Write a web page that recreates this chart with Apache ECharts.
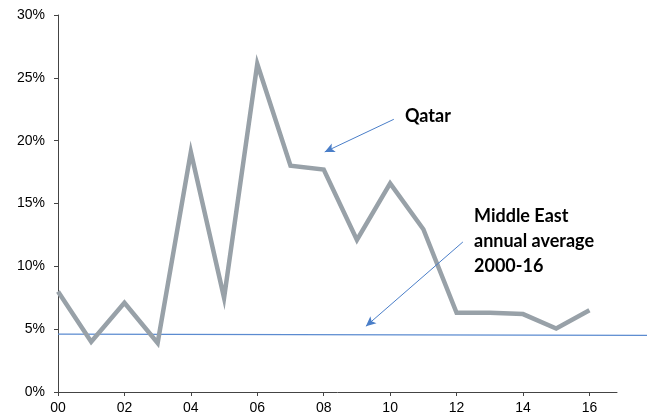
<!DOCTYPE html>
<html>
<head>
<meta charset="utf-8">
<script src="https://cdn.jsdelivr.net/npm/echarts@6/dist/echarts.min.js"></script>
<style>
  html, body { margin: 0; padding: 0; background: #fff; }
  #chart { width: 650px; height: 416px; }
</style>
</head>
<body>
<div id="chart"></div>
<script>
// Qatar annual growth, %, years 2000-16
var years = [0, 1, 2, 3, 4, 5, 6, 7, 8, 9, 10, 11, 12, 13, 14, 15, 16];
var qatar = [8.0, 4.0, 7.1, 3.9, 19.1, 7.5, 26.1, 18.0, 17.7, 12.1, 16.6, 12.95, 6.3, 6.3, 6.2, 5.05, 6.5];
// Middle East annual average 2000-16 (drawn as a near-flat line past the axis end)
var avgYears = [0, 17.73];
var avgValues = [4.6, 4.5];
var xTicks = [0, 2, 4, 6, 8, 10, 12, 14, 16];
var yTicks = [0, 5, 10, 15, 20, 25, 30];

function pairs(xs, ys) {
  var out = [];
  for (var i = 0; i < xs.length; i++) out.push([xs[i], ys[i]]);
  return out;
}

var chart = echarts.init(document.getElementById('chart'));
var txt = { fontFamily: 'Liberation Sans, Arial, sans-serif', fontSize: 14, color: '#000' };
var bold = 'bold 18px Lato, "Open Sans", sans-serif';

var option = {
  animation: false,
  grid: [
    { left: 58, right: 33, top: 15, bottom: 24 },
    { left: 58, right: 3, top: 15, bottom: 24 }
  ],
  xAxis: [{
    type: 'value', gridIndex: 0, min: 0, max: 16.83,
    splitLine: { show: false },
    axisLine: { lineStyle: { color: '#444', width: 1 } },
    axisTick: { length: 4, customValues: xTicks, lineStyle: { color: '#444' } },
    axisLabel: {
      customValues: xTicks, margin: 9,
      fontFamily: txt.fontFamily, fontSize: txt.fontSize, color: txt.color,
      formatter: function (v) { return (v < 10 ? '0' : '') + v; }
    }
  }, {
    type: 'value', gridIndex: 1, min: 0, max: 17.73, show: false
  }],
  yAxis: [{
    type: 'value', gridIndex: 0, min: 0, max: 30, interval: 5,
    splitLine: { show: false },
    axisLine: { show: true, lineStyle: { color: '#444', width: 1 } },
    axisTick: { show: true, length: 4, lineStyle: { color: '#444' } },
    axisLabel: {
      margin: 13,
      fontFamily: txt.fontFamily, fontSize: txt.fontSize, color: txt.color,
      formatter: '{value}%'
    }
  }, {
    type: 'value', gridIndex: 1, min: 0, max: 30, show: false
  }],
  series: [{
    name: 'Middle East average', type: 'line',
    xAxisIndex: 1, yAxisIndex: 1,
    data: pairs(avgYears, avgValues),
    symbol: 'none', silent: true,
    lineStyle: { color: '#5b8bd0', width: 1.3 }
  }, {
    name: 'Qatar', type: 'line',
    xAxisIndex: 0, yAxisIndex: 0,
    data: pairs(years, qatar),
    symbol: 'none',
    lineStyle: { color: '#98a1a8', width: 4.5, join: 'miter' },
    markLine: {
      silent: true,
      symbol: ['none', 'arrow'],
      symbolSize: [7, 10],
      label: { show: false },
      lineStyle: { color: '#4a7ec8', width: 1, type: 'solid' },
      data: [
        [{ coord: [10.11, 21.7] }, { coord: [8.03, 19.1] }],
        [{ coord: [12.19, 11.94] }, { coord: [9.27, 5.23] }]
      ]
    }
  }],
  graphic: [
    { type: 'text', left: 405, top: 107, style: { text: 'Qatar', font: bold, fill: '#000' } },
    { type: 'text', left: 474, top: 204, style: { text: 'Middle East\nannual average\n2000-16', font: bold, fill: '#000', lineHeight: 25 } }
  ]
};

chart.setOption(option);
</script>
</body>
</html>
